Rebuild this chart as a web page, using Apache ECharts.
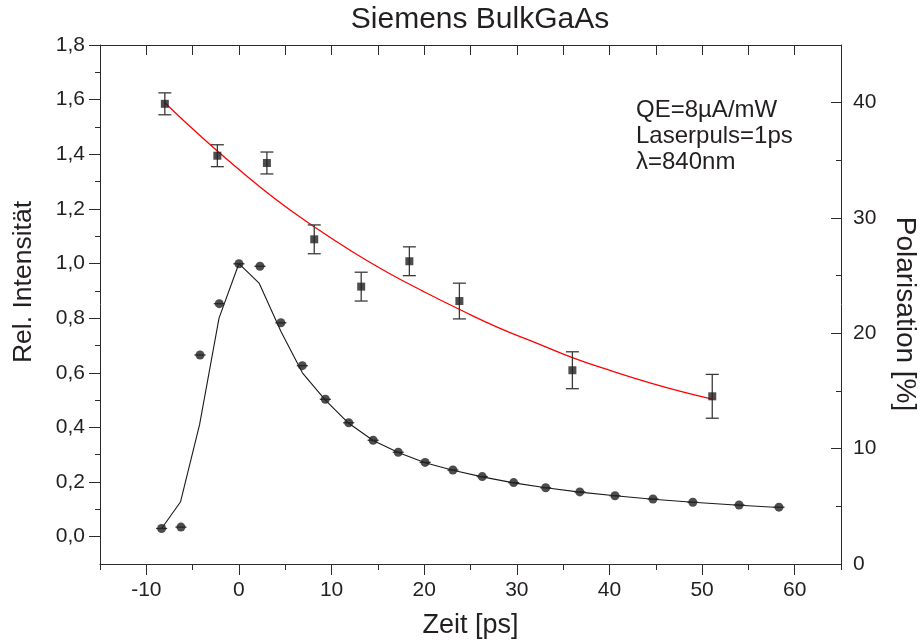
<!DOCTYPE html>
<html>
<head>
<meta charset="utf-8">
<script src="https://cdn.jsdelivr.net/npm/echarts@6/dist/echarts.min.js"></script>
<style>
  html, body { margin: 0; padding: 0; background: #fff; }
  #chart { width: 922px; height: 644px; }
</style>
</head>
<body>
<div id="chart"></div>
<script>
// Messpunkte Intensität (Kreise)
const intTime = [-8.35, -6.26, -4.2, -2.12, 0.0, 2.27, 4.53, 6.84, 9.33, 11.85, 14.49, 17.2, 20.1, 23.1, 26.27, 29.66, 33.12, 36.8, 40.6, 44.7, 49.0, 54.0, 58.3];
const intValue = [0.03, 0.035, 0.665, 0.853, 0.999, 0.99, 0.783, 0.626, 0.503, 0.417, 0.353, 0.309, 0.272, 0.244, 0.22, 0.198, 0.179, 0.164, 0.15, 0.138, 0.126, 0.116, 0.108];
const intTimeErr = [0.6, 0.6, 0.6, 0.6, 0.6, 0.6, 0.6, 0.6, 0.6, 0.6, 0.6, 0.6, 0.6, 0.6, 0.6, 0.6, 0.6, 0.6, 0.6, 0.6, 0.6, 0.6, 0.6];

// Simulation (schwarze Linie)
const simTime = [-8.35, -6.3, -4.25, -2.15, 0, 2.2, 4.55, 6.85, 9.33, 11.85, 14.49, 17.2, 20.1, 23.1, 26.27, 29.66, 33.12, 36.8, 40.6, 44.7, 49.0, 54.0, 58.3];
const simValue = [0.03, 0.128, 0.41, 0.80, 1.0, 0.927, 0.75, 0.60, 0.50, 0.415, 0.352, 0.308, 0.271, 0.243, 0.219, 0.197, 0.179, 0.163, 0.15, 0.137, 0.126, 0.115, 0.107];

// Polarisation (Quadrate) mit Fehlerbalken
const polTime = [-8.0, -2.33, 3.02, 8.13, 13.2, 18.4, 23.8, 36.0, 51.1];
const polValue = [39.9, 35.4, 34.77, 28.15, 24.05, 26.25, 22.8, 16.8, 14.54];
const polErr = [0.95, 0.95, 0.95, 1.25, 1.25, 1.25, 1.55, 1.6, 1.9];

// Fit (rote Kurve)
const fitTime = [-8, -4, 0, 4, 8, 12, 16, 20, 24, 28, 32, 36, 40, 44, 48, 51.1];
const fitValue = [40.0, 37.0, 34.2, 31.6, 29.3, 27.2, 25.3, 23.6, 22.0, 20.5, 19.2, 17.9, 16.8, 15.8, 14.9, 14.3];

// Achsenbeschriftung
const timeTicks = [-10, 0, 10, 20, 30, 40, 50, 60];
const timeMinorTicks = [-15, -5, 5, 15, 25, 35, 45, 55, 65];
const timeTopTicks = [-10, -5, 0, 5, 10, 15, 20, 25, 30, 35, 40, 45, 50, 55, 60];
const intTicks = [0, 0.2, 0.4, 0.6, 0.8, 1.0, 1.2, 1.4, 1.6, 1.8];
const intMinorTicks = [0.1, 0.3, 0.5, 0.7, 0.9, 1.1, 1.3, 1.5, 1.7];
const polTicks = [0, 10, 20, 30, 40];
const polMinorTicks = [5, 15, 25, 35];

const FONT = 'Liberation Sans, Arial, Helvetica, sans-serif';
const TXT = '#231f20';
const AX = '#2b2b2b';
const lineSt = { color: AX, width: 1 };

function vErrBar(params, api) {
  const x = api.value(0);
  const lo = api.coord([x, api.value(1)]);
  const hi = api.coord([x, api.value(2)]);
  const w = 6.5;
  const st = { stroke: '#3a3a3a', lineWidth: 1.3 };
  return {
    type: 'group',
    children: [
      { type: 'line', shape: { x1: lo[0], y1: lo[1], x2: hi[0], y2: hi[1] }, style: st },
      { type: 'line', shape: { x1: lo[0] - w, y1: lo[1], x2: lo[0] + w, y2: lo[1] }, style: st },
      { type: 'line', shape: { x1: hi[0] - w, y1: hi[1], x2: hi[0] + w, y2: hi[1] }, style: st }
    ]
  };
}

function hErrBar(params, api) {
  const y = api.value(2);
  const a = api.coord([api.value(0), y]);
  const b = api.coord([api.value(1), y]);
  return {
    type: 'line',
    shape: { x1: a[0], y1: a[1], x2: b[0], y2: b[1] },
    style: { stroke: '#3a3a3a', lineWidth: 1.3 }
  };
}

const chart = echarts.init(document.getElementById('chart'));

chart.setOption({
  backgroundColor: '#fff',
  animation: false,
  title: {
    text: 'Siemens BulkGaAs',
    left: 475,
    textAlign: 'center',
    top: 0,
    textStyle: { fontFamily: FONT, fontSize: 30, fontWeight: 'normal', color: TXT }
  },
  grid: { left: 100, right: 81, top: 45, bottom: 80, containLabel: false, outerBoundsMode: 'none' },
  graphic: [
    {
      type: 'text',
      left: 636,
      top: 97,
      style: {
        text: 'QE=8µA/mW\nLaserpuls=1ps\nλ=840nm',
        font: '24px ' + FONT,
        fill: TXT,
        lineHeight: 26
      }
    },
    {
      // Achsentitel links
      type: 'text',
      x: 24,
      y: 282,
      rotation: Math.PI / 2,
      style: {
        text: 'Rel. Intensität',
        font: '26.5px ' + FONT,
        fill: TXT,
        align: 'center',
        verticalAlign: 'middle'
      }
    },
    {
      // Achsentitel rechts
      type: 'text',
      x: 905,
      y: 314,
      rotation: -Math.PI / 2,
      style: {
        text: 'Polarisation [%]',
        font: '28px ' + FONT,
        fill: TXT,
        align: 'center',
        verticalAlign: 'middle'
      }
    }
  ],
  xAxis: [
    {
      type: 'value', position: 'bottom', min: -15, max: 65,
      axisLine: { show: true, onZero: false, lineStyle: lineSt },
      axisTick: { show: true, inside: false, length: 11, customValues: timeTicks, lineStyle: lineSt },
      axisLabel: { customValues: timeTicks, fontSize: 21, fontFamily: FONT, color: TXT, margin: 16 },
      splitLine: { show: false },
      name: 'Zeit [ps]', nameLocation: 'middle', nameGap: 48,
      nameTextStyle: { fontSize: 27, fontFamily: FONT, color: TXT }
    },
    {
      type: 'value', position: 'bottom', min: -15, max: 65,
      axisLine: { show: false, onZero: false },
      axisTick: { show: true, inside: false, length: 6, customValues: timeMinorTicks, lineStyle: lineSt },
      axisLabel: { show: false },
      splitLine: { show: false }
    },
    {
      type: 'value', position: 'top', min: -15, max: 65,
      axisLine: { show: true, onZero: false, lineStyle: lineSt },
      axisTick: { show: true, inside: true, length: 10, customValues: timeTopTicks, lineStyle: lineSt },
      axisLabel: { show: false },
      splitLine: { show: false }
    }
  ],
  yAxis: [
    {
      type: 'value', position: 'left', min: -0.1, max: 1.8,
      axisLine: { show: true, onZero: false, lineStyle: lineSt },
      axisTick: { show: true, inside: false, length: 11, customValues: intTicks, lineStyle: lineSt },
      axisLabel: {
        customValues: intTicks, fontSize: 21, fontFamily: FONT, color: TXT, margin: 15,
        formatter: v => v.toFixed(1).replace('.', ',')
      },
      splitLine: { show: false }
    },
    {
      type: 'value', position: 'right', min: 0, max: 45,
      axisLine: { show: true, onZero: false, lineStyle: lineSt },
      axisTick: { show: true, inside: true, length: 10, customValues: polTicks, lineStyle: lineSt },
      axisLabel: { customValues: polTicks, fontSize: 21, fontFamily: FONT, color: TXT, margin: 12 },
      splitLine: { show: false }
    },
    {
      type: 'value', position: 'left', min: -0.1, max: 1.8,
      axisLine: { show: false, onZero: false },
      axisTick: { show: true, inside: false, length: 5, customValues: intMinorTicks, lineStyle: lineSt },
      axisLabel: { show: false },
      splitLine: { show: false }
    },
    {
      type: 'value', position: 'right', min: 0, max: 45,
      axisLine: { show: false, onZero: false },
      axisTick: { show: true, inside: true, length: 5, customValues: polMinorTicks, lineStyle: lineSt },
      axisLabel: { show: false },
      splitLine: { show: false }
    }
  ],
  series: [
    {
      type: 'line', name: 'Fit', xAxisIndex: 0, yAxisIndex: 1,
      data: fitTime.map((t, i) => [t, fitValue[i]]),
      smooth: true, showSymbol: false, symbol: 'none',
      lineStyle: { color: '#ff0000', width: 1.3 }, z: 2
    },
    {
      type: 'custom', name: 'PolErr', xAxisIndex: 0, yAxisIndex: 1,
      renderItem: vErrBar,
      encode: { x: 0, y: [1, 2] },
      data: polTime.map((t, i) => [t, polValue[i] - polErr[i], polValue[i] + polErr[i]]), z: 3
    },
    {
      type: 'scatter', name: 'Polarisation', xAxisIndex: 0, yAxisIndex: 1,
      data: polTime.map((t, i) => [t, polValue[i]]),
      symbol: 'rect', symbolSize: 8,
      itemStyle: { color: TXT }, z: 4
    },
    {
      type: 'line', name: 'Simulation', xAxisIndex: 0, yAxisIndex: 0,
      data: simTime.map((t, i) => [t, simValue[i]]),
      showSymbol: false, symbol: 'none',
      lineStyle: { color: '#1a1a1a', width: 1.1 }, z: 2
    },
    {
      type: 'custom', name: 'IntErr', xAxisIndex: 0, yAxisIndex: 0,
      renderItem: hErrBar,
      encode: { x: [0, 1], y: 2 },
      data: intTime.map((t, i) => [t - intTimeErr[i], t + intTimeErr[i], intValue[i]]), z: 3
    },
    {
      type: 'scatter', name: 'Intensität', xAxisIndex: 0, yAxisIndex: 0,
      data: intTime.map((t, i) => [t, intValue[i]]),
      symbol: 'circle', symbolSize: 9,
      itemStyle: { color: TXT }, z: 4
    }
  ]
});
</script>
</body>
</html>
